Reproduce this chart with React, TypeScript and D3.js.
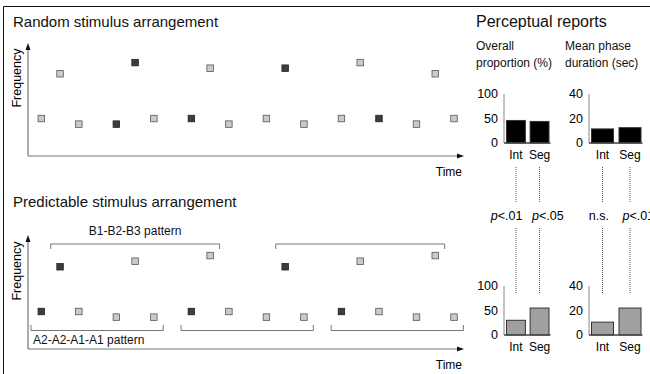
import React from 'react';
import * as d3 from 'd3';

// tone levels, in semitone-like units above the A1 tone
const levels = { A1: 0, A2: 1, B1: 9, B2: 10, B3: 11 };

const randomTimes = [0, 1, 2, 4, 5, 6, 8, 9, 10, 12, 13, 14, 16, 17, 18, 20, 21, 22];
const randomTones = ['A2', 'B1', 'A1', 'A1', 'B3', 'A2', 'A2', 'B2', 'A1', 'A2', 'B2', 'A1', 'A2', 'B3', 'A2', 'A1', 'B1', 'A2'];
const randomDark = [0, 0, 0, 1, 1, 0, 1, 0, 0, 0, 1, 0, 0, 0, 1, 0, 0, 0];

const predTimes = [0, 1, 2, 4, 5, 6, 8, 9, 10, 12, 13, 14, 16, 17, 18, 20, 21, 22];
const predTones = ['A2', 'B1', 'A2', 'A1', 'B2', 'A1', 'A2', 'B3', 'A2', 'A1', 'B1', 'A1', 'A2', 'B2', 'A2', 'A1', 'B3', 'A1'];
const predDark = [1, 1, 0, 0, 0, 0, 1, 0, 0, 0, 1, 0, 1, 0, 0, 0, 0, 0];

const aPatternStarts = [0, 8, 16];
const bPatternStarts = [1, 13];

const conditions = ['Int', 'Seg'];
const proportionRandom = [46, 44];
const durationRandom = [11.5, 12.5];
const proportionPred = [30, 55];
const durationPred = [10.5, 22];
const proportionTicks = [0, 50, 100];
const durationTicks = [0, 20, 40];
const proportionP = ['p<.01', 'p<.05'];
const durationP = ['n.s.', 'p<.01'];

const font = 'Liberation Sans, Arial, Helvetica, sans-serif';

const x = d3.scaleLinear().domain([0, 22]).range([41.3, 454]);

function Arrows({ axisY, topY }) {
    return (
        <g>
            <line x1={28} x2={28} y1={axisY} y2={topY + 5} stroke="#777" strokeWidth={1.2} />
            <line x1={28} x2={458} y1={axisY} y2={axisY} stroke="#777" strokeWidth={1.2} />
            <path d={`M28,${topY} L25.5,${topY + 7} L30.5,${topY + 7} Z`} fill="#111" />
            <path d={`M464,${axisY} L457,${axisY - 2.5} L457,${axisY + 2.5} Z`} fill="#111" />
            <text x={462} y={axisY + 20} textAnchor="end" fontSize={12} fontFamily={font}>Time</text>
            <text
                transform={`translate(21,${axisY - 78}) rotate(-90)`}
                textAnchor="middle"
                fontSize={12.5}
                fontFamily={font}
            >
                Frequency
            </text>
        </g>
    );
}

function Tones({ axisY, times, tones, dark }) {
    const y = d3.scaleLinear().domain([-5.7, 14.5]).range([axisY, axisY - 113]);
    return (
        <g>
            {times.map((t, i) => (
                <rect
                    key={i}
                    x={x(t) - 3.25}
                    y={y(levels[tones[i]]) - 3.25}
                    width={6.5}
                    height={6.5}
                    fill={dark[i] ? '#3d3d3d' : '#cacaca'}
                    stroke={dark[i] ? '#222' : '#555'}
                    strokeWidth={0.8}
                />
            ))}
        </g>
    );
}

function BarChart({ axisX, baseY, values, max, ticks, fill, right, pLabels, showP }) {
    const y = d3.scaleLinear().domain([0, max]).range([baseY, baseY - 49]);
    const band = d3.scaleBand().domain(conditions).range([axisX + 2.5, right]).paddingInner(0.2);
    return (
        <g fontFamily={font}>
            <line x1={axisX} x2={axisX} y1={baseY} y2={y(max)} stroke="#888" strokeWidth={1} />
            {ticks.map((t) => (
                <text key={t} x={axisX - 6} y={y(t)} dy="0.35em" textAnchor="end" fontSize={12.5}>{t}</text>
            ))}
            {conditions.map((c, i) => (
                <rect
                    key={c}
                    x={band(c)}
                    y={y(values[i])}
                    width={band.bandwidth()}
                    height={baseY - y(values[i])}
                    fill={fill}
                    stroke="#333"
                    strokeWidth={1}
                />
            ))}
            <line x1={axisX} x2={right + 1.5} y1={baseY} y2={baseY} stroke="#444" strokeWidth={1.5} />
            {conditions.map((c) => (
                <text key={c} x={band(c) + band.bandwidth() / 2} y={baseY + 16} textAnchor="middle" fontSize={12}>{c}</text>
            ))}
            {showP && conditions.map((c) => {
                const cx = band(c) + band.bandwidth() / 2;
                return (
                    <g key={c}>
                        <line x1={cx} x2={cx} y1={167} y2={203} stroke="#555" strokeWidth={1} strokeDasharray="1,1" />
                        <line x1={cx} x2={cx} y1={228} y2={293} stroke="#555" strokeWidth={1} strokeDasharray="1,1" />
                    </g>
                );
            })}
            {showP && pLabels.map((p, i) => {
                const cx = band(conditions[i]) + band.bandwidth() / 2;
                const isP = p.startsWith('p');
                return (
                    <text
                        key={i}
                        x={i === 0 ? cx + 6.5 : cx - 7.5}
                        y={220}
                        textAnchor={i === 0 ? 'end' : 'start'}
                        fontSize={12.5}
                    >
                        {isP ? <tspan fontStyle="italic">p</tspan> : null}
                        {isP ? p.slice(1) : p}
                    </text>
                );
            })}
        </g>
    );
}

export default function App() {
    const topAxis = 156;
    const botAxis = 349;
    return (
        <svg
            width={650}
            height={374}
            style={{ position: 'absolute', left: 0, top: 0, background: '#fff' }}
        >
            <rect width={650} height={374} fill="#fff" />
            <line x1={3.5} x2={650} y1={6.5} y2={6.5} stroke="#111" strokeWidth={1} />
            <line x1={3.5} x2={3.5} y1={6.5} y2={374} stroke="#111" strokeWidth={1} />

            <g fontFamily={font} fill="#111">
                <text x={13} y={27} fontSize={15}>Random stimulus arrangement</text>
                <text x={13} y={207} fontSize={15}>Predictable stimulus arrangement</text>
                <text x={476} y={27} fontSize={16}>Perceptual reports</text>
                <text x={476} y={50} fontSize={12}>Overall</text>
                <text x={476} y={67} fontSize={12}>proportion (%)</text>
                <text x={565} y={50} fontSize={12}>Mean phase</text>
                <text x={565} y={67} fontSize={12}>duration (sec)</text>
            </g>

            <Arrows axisY={topAxis} topY={43} />
            <Tones axisY={topAxis} times={randomTimes} tones={randomTones} dark={randomDark} />

            <Arrows axisY={botAxis} topY={235} />
            <Tones axisY={botAxis} times={predTimes} tones={predTones} dark={predDark} />

            <g stroke="#777" strokeWidth={1} fill="none">
                {aPatternStarts.map((s) => (
                    <path key={s} d={`M${x(s - 0.55)},325 V330.5 H${x(s + 6.5)} V325`} />
                ))}
                {bPatternStarts.map((s) => (
                    <path key={s} d={`M${x(s - 0.5)},249 V244 H${x(s + 8.5)} V249`} />
                ))}
            </g>
            <g fontFamily={font} fontSize={12} fill="#111">
                <text x={(x(bPatternStarts[0] - 0.5) + x(bPatternStarts[0] + 8.5)) / 2} y={235} textAnchor="middle">B1-B2-B3 pattern</text>
                <text x={33} y={344}>A2-A2-A1-A1 pattern</text>
            </g>

            <BarChart axisX={504} baseY={143} values={proportionRandom} max={100} ticks={proportionTicks} fill="#000" right={549} pLabels={proportionP} showP />
            <BarChart axisX={589} baseY={143} values={durationRandom} max={40} ticks={durationTicks} fill="#000" right={641} pLabels={durationP} showP />
            <BarChart axisX={504} baseY={335} values={proportionPred} max={100} ticks={proportionTicks} fill="#a0a0a0" right={549} />
            <BarChart axisX={589} baseY={335} values={durationPred} max={40} ticks={durationTicks} fill="#a0a0a0" right={641} />
        </svg>
    );
}
